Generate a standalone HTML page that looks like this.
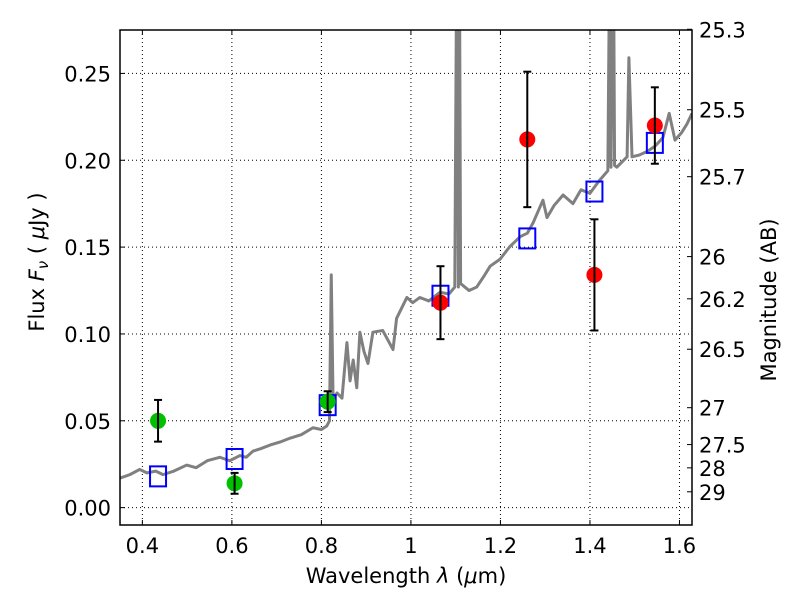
<!DOCTYPE html>
<html><head><meta charset="utf-8"><style>
body{margin:0;background:#fff}
svg text{font-family:"DejaVu Sans","Liberation Sans",sans-serif;fill:#000}
</style></head><body>
<svg id="c" width="800" height="600"></svg>
<script>
const specX=[0.35,0.372,0.394,0.41,0.43,0.446,0.47,0.499,0.52,0.545,0.573,0.595,0.618,0.632,0.647,0.665,0.685,0.71,0.730,0.755,0.781,0.80,0.812,0.818,0.822,0.826,0.835,0.846,0.857,0.864,0.871,0.879,0.886,0.895,0.904,0.915,0.937,0.960,0.968,0.991,1.004,1.020,1.04,1.065,1.085,1.098,1.103,1.106,1.108,1.111,1.13,1.147,1.165,1.177,1.199,1.22,1.244,1.26,1.273,1.295,1.304,1.32,1.34,1.362,1.38,1.40,1.42,1.44,1.445,1.447,1.452,1.455,1.46,1.483,1.487,1.494,1.51,1.527,1.545,1.563,1.577,1.59,1.605,1.617,1.628];
const specY=[0.017,0.019,0.022,0.020,0.021,0.019,0.021,0.0245,0.023,0.027,0.029,0.027,0.030,0.029,0.0325,0.034,0.036,0.038,0.040,0.042,0.046,0.045,0.047,0.050,0.134,0.063,0.066,0.063,0.095,0.073,0.085,0.069,0.101,0.090,0.083,0.101,0.102,0.091,0.109,0.121,0.118,0.121,0.119,0.124,0.123,0.127,0.35,0.127,0.35,0.129,0.125,0.127,0.134,0.139,0.143,0.150,0.156,0.158,0.164,0.177,0.167,0.174,0.180,0.175,0.183,0.181,0.188,0.194,0.35,0.196,0.35,0.197,0.196,0.202,0.259,0.202,0.203,0.205,0.208,0.213,0.227,0.2116,0.216,0.221,0.227];
const greenX=[0.435,0.606,0.814];
const greenY=[0.050,0.014,0.061];
const greenErr=[0.012,0.006,0.006];
const redX=[1.066,1.26,1.41,1.545];
const redY=[0.118,0.212,0.134,0.220];
const redErr=[0.021,0.039,0.032,0.022];
const modelX=[0.435,0.606,0.814,1.066,1.26,1.41,1.545];
const modelY=[0.018,0.028,0.059,0.122,0.155,0.182,0.210];
const xTicks=[0.4,0.6,0.8,1.0,1.2,1.4,1.6];
const xTickLabels=["0.4","0.6","0.8","1","1.2","1.4","1.6"];
const yTicks=[0,0.05,0.10,0.15,0.20,0.25];
const yTickLabels=["0.00","0.05","0.10","0.15","0.20","0.25"];
const magTicks=[25.3,25.5,25.7,26,26.2,26.5,27,27.5,28,29];
const magLabels=["25.3","25.5","25.7","26","26.2","26.5","27","27.5","28","29"];

const L=120,R=692,T=30,B=525,X0=0.35,X1=1.628,Y0=-0.01,Y1=0.275;
const sx=v=>L+(v-X0)/(X1-X0)*(R-L);
const sy=v=>B-(v-Y0)/(Y1-Y0)*(B-T);
const svg=document.getElementById('c');const NS="http://www.w3.org/2000/svg";
function mk(t,a,p){const e=document.createElementNS(NS,t);for(const k in a)e.setAttribute(k,a[k]);(p||svg).appendChild(e);return e;}
const defs=mk('defs',{});const cp=mk('clipPath',{id:'clip'},defs);mk('rect',{x:L,y:T,width:R-L,height:B-T},cp);
const grid=mk('g',{});


const FS=21;
xTicks.forEach((v,i)=>{const x=sx(v);
 mk('line',{x1:x,x2:x,y1:T,y2:B,stroke:'#000','stroke-width':1,'stroke-dasharray':'1,3'},grid);
 mk('line',{x1:x,x2:x,y1:B,y2:B-5,stroke:'#000'});mk('line',{x1:x,x2:x,y1:T,y2:T+5,stroke:'#000'});
 const t=mk('text',{x:x,y:B+28,'font-size':FS,'text-anchor':'middle'});t.textContent=xTickLabels[i];
 
 });
yTicks.forEach((v,i)=>{const y=sy(v);
 mk('line',{x1:L,x2:R,y1:y,y2:y,stroke:'#000','stroke-width':1,'stroke-dasharray':'1,3'},grid);
 mk('line',{x1:L,x2:L+5,y1:y,y2:y,stroke:'#000'});
 const t=mk('text',{x:L-9,y:y+8,'font-size':FS,'text-anchor':'end'});t.textContent=yTickLabels[i];
 
 });
magTicks.forEach((m,i)=>{const f=Math.pow(10,(23.9-m)/2.5);const y=sy(f);
 mk('line',{x1:R,x2:R-5,y1:y,y2:y,stroke:'#000'});
 const t=mk('text',{x:R+7,y:y+8,'font-size':FS});t.textContent=magLabels[i];
 
 });
const g=mk('g',{'clip-path':'url(#clip)'});
const sp=mk('polyline',{points:specX.map((x,i)=>sx(x)+','+sy(specY[i])).join(' '),fill:'none',stroke:'#808080','stroke-width':3,'stroke-linejoin':'round'},g);


modelX.forEach((x,i)=>{const r=mk('rect',{x:sx(x)-8,y:sy(modelY[i])-10,width:16,height:20,fill:'none',stroke:'#0000ff','stroke-width':2},g);
 
 });
function pts(X,Y,E,col,name){X.forEach((x,i)=>{const cx=sx(x);
 const c=mk('circle',{cx:cx,cy:sy(Y[i]),r:8,fill:col},g);
 
 
 const y1=sy(Y[i]+E[i]),y2=sy(Y[i]-E[i]);
 mk('line',{x1:cx,x2:cx,y1:y1,y2:y2,stroke:'#000','stroke-width':2},g);
 mk('line',{x1:cx-4,x2:cx+4,y1:y1,y2:y1,stroke:'#000','stroke-width':2},g);
 mk('line',{x1:cx-4,x2:cx+4,y1:y2,y2:y2,stroke:'#000','stroke-width':2},g);});}
pts(greenX,greenY,greenErr,'#00c000','hst-flux-point');
pts(redX,redY,redErr,'#ff0000','ir-flux-point');
const fr=mk('rect',{x:L,y:T,width:R-L,height:B-T,fill:'none',stroke:'#000','stroke-width':1.5});


let t=mk('text',{x:406,y:583,'font-size':21,'text-anchor':'middle'});
t.innerHTML='Wavelength  <tspan font-style="italic">λ</tspan> (<tspan font-style="italic">μ</tspan>m)';


t=mk('text',{x:0,y:0,'font-size':21,'text-anchor':'middle',transform:'translate(44,262) rotate(-90)'});
t.innerHTML='Flux  <tspan font-style="italic">F</tspan><tspan font-style="italic" font-size="15" dy="4">ν</tspan><tspan dy="-4">  ( </tspan><tspan font-style="italic">μ</tspan>Jy )';


t=mk('text',{x:0,y:0,'font-size':21,'text-anchor':'middle',transform:'translate(776,300) rotate(-90)'});
t.textContent='Magnitude (AB)';


</script>
</body></html>
